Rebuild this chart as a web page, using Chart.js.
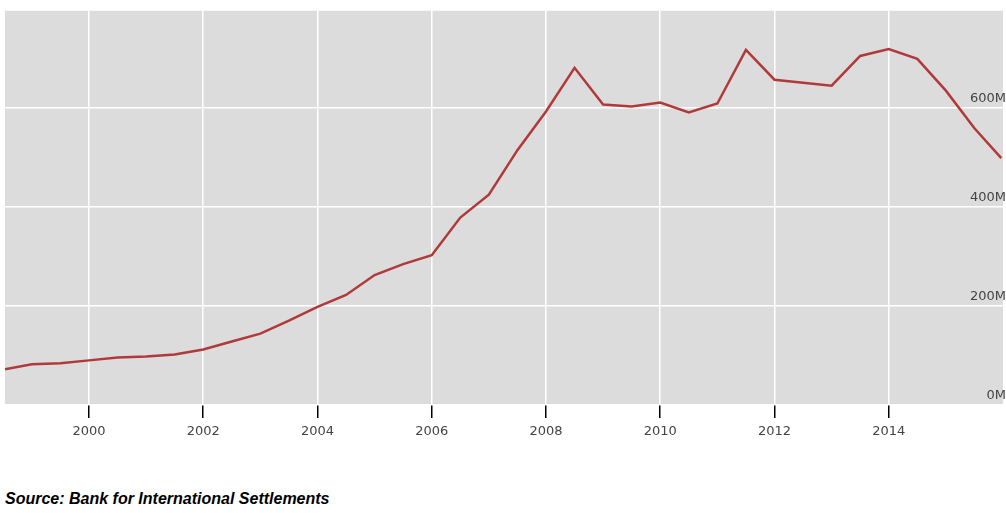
<!DOCTYPE html>
<html>
<head>
<meta charset="utf-8">
<script src="https://cdn.jsdelivr.net/npm/chart.js@4/dist/chart.umd.min.js"></script>
<style>
  body { margin: 0; background: #fff; width: 1006px; height: 513px; overflow: hidden; }
  #wrap { position: relative; width: 1006px; height: 455px; }
  #source { position: absolute; left: 5px; top: 490px; font: italic bold 16px "Liberation Sans", Arial, sans-serif; color: #000; }
</style>
</head>
<body>
<div id="wrap"><canvas id="chart"></canvas></div>
<div id="source">Source: Bank for International Settlements</div>
<script>
// Half-yearly observations, millions
const years = [1998.53, 1999, 1999.5, 2000, 2000.5, 2001, 2001.5, 2002, 2002.5, 2003, 2003.5,
  2004, 2004.5, 2005, 2005.5, 2006, 2006.5, 2007, 2007.5, 2008, 2008.5, 2009, 2009.5,
  2010, 2010.5, 2011, 2011.5, 2012, 2012.5, 2013, 2013.5, 2014, 2014.5, 2015, 2015.5, 2015.97];
const values = [72, 82, 84, 90, 96, 98, 102, 112, 128, 144, 170,
  198, 222, 262, 284, 302, 378, 424, 514, 592, 680, 606, 602,
  610, 590, 608, 716, 656, 650, 644, 704, 718, 698, 634, 558, 498];
const yTicks = [0, 200, 400, 600];

// Grey plot background
const plotBg = {
  id: 'plotBg',
  beforeDraw(chart) {
    const a = chart.chartArea, c = chart.ctx;
    c.save();
    c.fillStyle = '#dcdcdc';
    c.fillRect(a.left, a.top, a.right - a.left, a.bottom - a.top);
    c.restore();
  }
};

new Chart(document.getElementById('chart'), {
  type: 'line',
  data: {
    datasets: [{
      data: years.map((y, i) => ({ x: y, y: values[i] })),
      borderColor: '#b03a3a',
      borderWidth: 2.5,
      pointRadius: 0,
      tension: 0
    }]
  },
  options: {
    responsive: true,
    maintainAspectRatio: false,
    animation: false,
    layout: { padding: { left: 5, right: 3, top: 0, bottom: 0 } },
    plugins: { legend: { display: false }, tooltip: { enabled: false } },
    scales: {
      x: {
        type: 'linear',
        min: 1998.53,
        max: 2016.0,
        afterBuildTicks(s) { s.ticks = [2000, 2002, 2004, 2006, 2008, 2010, 2012, 2014].map(v => ({ value: v })); },
        afterFit(s) { s.height = 50; },
        border: { display: false },
        grid: { color: '#ffffff', lineWidth: 1.5, tickLength: 13, tickColor: '#000000', tickWidth: 1.5 },
        ticks: { color: '#444', font: { family: 'DejaVu Sans', size: 13 }, padding: 6, callback: v => String(v) }
      },
      y: {
        position: 'right',
        min: 0,
        max: 795,
        afterBuildTicks(s) { s.ticks = yTicks.map(v => ({ value: v })); },
        afterFit(s) { s.width = 0; },
        border: { display: false },
        grid: { color: '#ffffff', lineWidth: 1.5, drawTicks: false },
        ticks: { mirror: true, labelOffset: -9, padding: 3, color: '#444', font: { family: 'DejaVu Sans', size: 13 }, callback: v => v + 'M' }
      }
    }
  },
  plugins: [plotBg]
});
</script>
</body>
</html>
